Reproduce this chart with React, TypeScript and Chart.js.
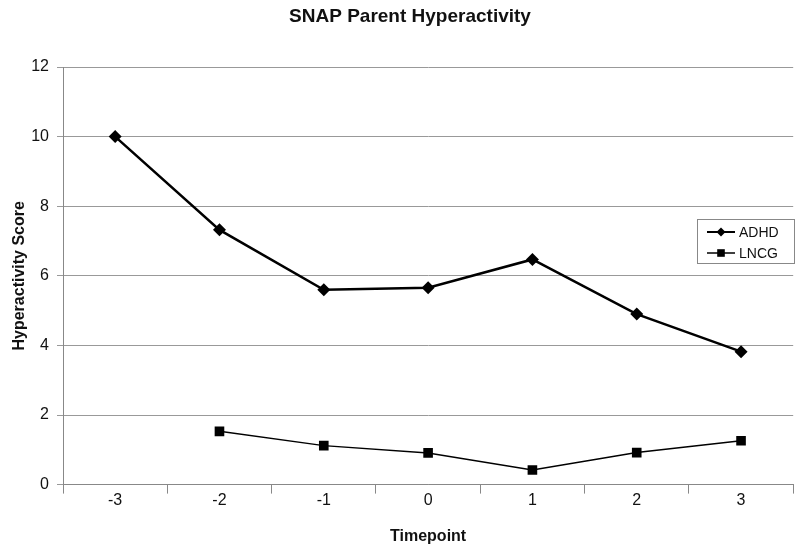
import React, { useEffect, useRef } from "react";
import { Chart, registerables } from "chart.js";

Chart.register(...registerables);

const timepoints = ["-3", "-2", "-1", "0", "1", "2", "3"];
const adhdValues = [10.0, 7.32, 5.6, 5.66, 6.47, 4.9, 3.82];
const lncgValues: (number | null)[] = [null, 1.53, 1.12, 0.91, 0.42, 0.92, 1.26];
const seriesNames = ["ADHD", "LNCG"];
const chartTitle = "SNAP Parent Hyperactivity";
const FONT = "'Liberation Sans', Arial, sans-serif";

const titleAndLegend = {
  id: "titleAndLegend",
  afterDraw(chart: any) {
    const ctx = chart.ctx;
    ctx.save();
    // title
    ctx.font = `bold 19px ${FONT}`;
    ctx.fillStyle = "#111";
    ctx.textAlign = "center";
    ctx.textBaseline = "alphabetic";
    ctx.fillText(chartTitle, 410, 22);
    // legend
    const x0 = 697, y0 = 219, w = 97, h = 44;
    ctx.fillStyle = "#fff";
    ctx.fillRect(x0, y0, w, h);
    ctx.strokeStyle = "#888";
    ctx.lineWidth = 1;
    ctx.strokeRect(x0 + 0.5, y0 + 0.5, w, h);
    const rows = [
      { y: y0 + 13, style: "rectRot", r: 4.5, lw: 2 },
      { y: y0 + 34, style: "rect", r: 3.8, lw: 1.5 },
    ];
    rows.forEach((row, i) => {
      ctx.strokeStyle = "#000";
      ctx.lineWidth = row.lw;
      ctx.beginPath();
      ctx.moveTo(x0 + 10, row.y);
      ctx.lineTo(x0 + 38, row.y);
      ctx.stroke();
      ctx.fillStyle = "#000";
      const cx = x0 + 24;
      if (row.style === "rectRot") {
        ctx.beginPath();
        ctx.moveTo(cx, row.y - row.r);
        ctx.lineTo(cx + row.r, row.y);
        ctx.lineTo(cx, row.y + row.r);
        ctx.lineTo(cx - row.r, row.y);
        ctx.closePath();
        ctx.fill();
      } else {
        ctx.fillRect(cx - row.r, row.y - row.r, row.r * 2, row.r * 2);
      }
      ctx.font = `14px ${FONT}`;
      ctx.textBaseline = "middle";
      ctx.textAlign = "left";
      ctx.fillStyle = "#111";
      ctx.fillText(seriesNames[i], x0 + 42, row.y + 1);
    });
    ctx.restore();
  },
};

export default function App() {
  const ref = useRef<HTMLCanvasElement>(null);
  useEffect(() => {
    document.body.style.margin = "0";
    const chart = new Chart(ref.current!, {
      type: "line",
      data: {
        labels: timepoints,
        datasets: [
          {
            label: seriesNames[0],
            data: adhdValues,
            borderColor: "#000",
            backgroundColor: "#000",
            borderWidth: 2.5,
            pointStyle: "rectRot",
            pointRadius: 6.5,
            pointBorderWidth: 0,
            tension: 0,
          },
          {
            label: seriesNames[1],
            data: lncgValues,
            borderColor: "#000",
            backgroundColor: "#000",
            borderWidth: 1.5,
            pointStyle: "rect",
            pointRadius: 6.8,
            pointBorderWidth: 0,
            tension: 0,
          },
        ],
      },
      options: {
        responsive: false,
        animation: false,
        layout: { padding: { left: 10, right: 5, top: 67, bottom: 6 } },
        plugins: {
          legend: { display: false },
          tooltip: { enabled: false },
          title: { display: false },
        },
        scales: {
          x: {
            offset: true,
            grid: {
              offset: true,
              drawOnChartArea: false,
              tickLength: 9,
              color: "#888",
            },
            border: { color: "#888", width: 1 },
            ticks: {
              color: "#111",
              font: { family: FONT, size: 16 },
              padding: -3,
            },
            title: {
              display: true,
              text: "Timepoint",
              color: "#111",
              font: { family: FONT, size: 16, weight: "bold" },
              padding: { top: 20, bottom: 0 },
            },
          },
          y: {
            min: 0,
            max: 12,
            afterFit: (scale: any) => {
              scale.width = 53;
            },
            ticks: {
              stepSize: 2,
              color: "#111",
              font: { family: FONT, size: 16 },
              padding: 8,
            },
            grid: { color: "#999", tickLength: 6 },
            border: { color: "#888", width: 1 },
            title: {
              display: true,
              text: "Hyperactivity Score",
              color: "#111",
              font: { family: FONT, size: 16, weight: "bold" },
              padding: { top: 0, bottom: 1 },
            },
          },
        },
      },
      plugins: [titleAndLegend],
    });
    return () => chart.destroy();
  }, []);
  return (
    <div style={{ width: 800, height: 552 }}>
      <canvas ref={ref} width={800} height={552} />
    </div>
  );
}
